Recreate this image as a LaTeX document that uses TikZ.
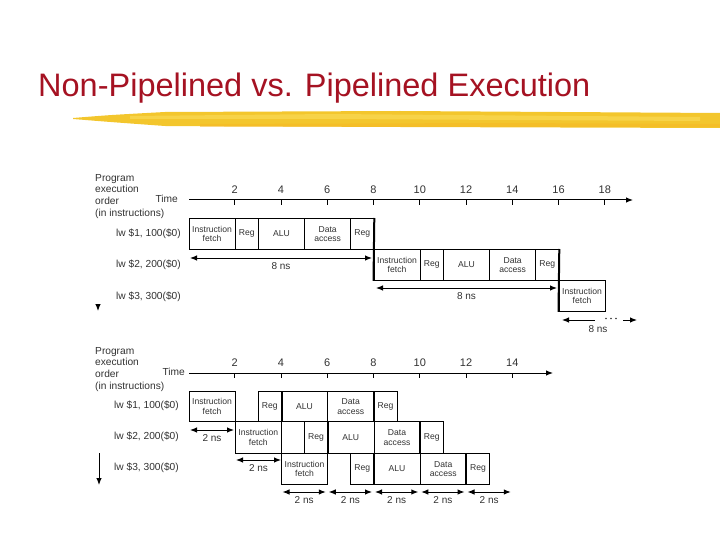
\documentclass[tikz,border=0pt]{standalone}
\usepackage{fontspec}
\setmainfont{Liberation Sans}
\usetikzlibrary{arrows.meta}
\definecolor{titlered}{RGB}{165,18,34}
\definecolor{brushA}{RGB}{243,198,45}
\definecolor{brushB}{RGB}{250,220,90}
\definecolor{txt}{RGB}{50,50,50}
\tikzset{
  stage/.style={draw=black, line width=0.8pt, inner sep=0pt, align=center, text=txt, font=\fontsize{8.6}{9.6}\selectfont},
  dim/.style={{Latex[length=7pt,width=5.5pt]}-{Latex[length=7pt,width=5.5pt]}, line width=1pt},
  onearrow/.style={-{Latex[length=7pt,width=5.5pt]}, line width=1pt},
  axisline/.style={-{Latex[length=7pt,width=5.5pt]}, line width=1pt},
  tickmark/.style={line width=1pt},
  thickedge/.style={line width=2pt},
  lbl/.style={text=txt, font=\fontsize{10.2}{11.7}\selectfont, inner sep=0pt},
  num/.style={text=txt, font=\fontsize{11}{13}\selectfont, inner sep=0pt},
  dimlbl/.style={text=txt, font=\fontsize{10}{11}\selectfont, inner sep=0pt}
}
\newcommand\mystage[6]{%
  \pgfmathsetmacro\xa{188.5+23.125*#2}%
  \pgfmathsetmacro\mw{23.125*(#3-#2)}%
  \pgfmathsetmacro\mh{#5-#4}%
  \node[stage, minimum width=\mw pt, minimum height=\mh pt, anchor=north west] (#1) at (\xa,#4) {#6};}
\begin{document}
\begin{tikzpicture}[x=1pt,y=-1pt]
\useasboundingbox (0,0) rectangle (720,540);
% title
\node[anchor=base west, inner sep=0pt, text=titlered, font=\fontsize{32.5}{36}\selectfont] (title) at (38,97) {Non-Pipelined vs. Pipelined Execution};
% brush stroke
\fill[brushA] (73,118) .. controls (110,115) .. (165,112) -- (400,111) -- (720,113) -- (720,128) -- (400,127) -- (165,126) .. controls (110,122) .. (73,119) -- cycle;
\fill[brushB, opacity=0.6] (130,116) -- (330,114) -- (700,117) -- (700,121) -- (330,119) -- (130,119) -- cycle;
\fill[brushA!80!orange, opacity=0.5] (200,124) -- (500,123) -- (720,124) -- (720,127) -- (500,127) -- (200,127) -- cycle;

% ================= TOP (non-pipelined) =================
\node[lbl, anchor=north west, align=left] (tprog) at (95,174) {Program\\execution\\order\\(in instructions)};
\node[lbl, anchor=east] (ttime) at (178,199) {Time};
\coordinate (tax0) at (189,200);
\coordinate (tax1) at (633,200);
\draw[axisline] (tax0) -- (tax1);
\foreach \t in {2,4,...,18}{
  \pgfmathsetmacro\xx{188.5+23.125*\t}
  \draw[tickmark] (\xx,200) -- (\xx,205);
  \node[num] at (\xx,190) {\t};
}
\node[lbl, anchor=east] (tl1) at (181,234) {lw \$1, 100(\$0)};
\node[lbl, anchor=east] (tl2) at (181,265) {lw \$2, 200(\$0)};
\node[lbl, anchor=east] (tl3) at (181,297) {lw \$3, 300(\$0)};
\mystage{a1}{0}{2}{218}{249}{Instruction\\fetch}
\mystage{a2}{2}{3}{218}{249}{Reg}
\mystage{a3}{3}{5}{218}{249}{ALU}
\mystage{a4}{5}{7}{218}{249}{Data\\access}
\mystage{a5}{7}{8}{218}{249}{Reg}
\mystage{b1}{8}{10}{249}{280}{Instruction\\fetch}
\mystage{b2}{10}{11}{249}{280}{Reg}
\mystage{b3}{11}{13}{249}{280}{ALU}
\mystage{b4}{13}{15}{249}{280}{Data\\access}
\mystage{b5}{15}{16}{249}{280}{Reg}
\mystage{c1}{16}{18}{280}{311}{Instruction\\fetch}
\draw[thickedge] (a5.north east) -- (b1.south west);
\draw[thickedge] (b5.north east) -- (c1.south west);
% 8 ns arrows
\coordinate (d1s) at (190,258); \coordinate (d1e) at (372,258);
\draw[dim] (d1s) -- (d1e) node[dimlbl, midway, below=4pt] {8 ns};
\coordinate (d2s) at (376,288); \coordinate (d2e) at (557,288);
\draw[dim] (d2s) -- (d2e) node[dimlbl, midway, below=4pt] {8 ns};
\coordinate (d3s) at (562,320); \coordinate (d3e) at (595,320);
\draw[{Latex[length=7pt,width=5.5pt]}-, line width=1pt] (d3s) -- (d3e);
\foreach \dx in {606,611,616}{\fill[txt] (\dx,318.5) circle (0.8pt);}
\coordinate (d4s) at (623,320); \coordinate (d4e) at (637,320);
\draw[onearrow] (d4s) -- (d4e);
\node[dimlbl] (d3l) at (598,329) {8 ns};
% order arrowhead
\coordinate (tord0) at (98,304); \coordinate (tord1) at (98,311);
\draw[onearrow] (tord0) -- (tord1);

% ================= BOTTOM (pipelined) =================
\node[lbl, anchor=north west, align=left] (bprog) at (95,347) {Program\\execution\\order\\(in instructions)};
\node[lbl, anchor=east] (btime) at (185,372) {Time};
\coordinate (bax0) at (189,373);
\coordinate (bax1) at (553,373);
\draw[axisline] (bax0) -- (bax1);
\foreach \t in {2,4,...,14}{
  \pgfmathsetmacro\xx{188.5+23.125*\t}
  \draw[tickmark] (\xx,373) -- (\xx,378);
  \node[num] at (\xx,363) {\t};
}
\node[lbl, anchor=east] (bl1) at (179,406) {lw \$1, 100(\$0)};
\node[lbl, anchor=east] (bl2) at (179,437) {lw \$2, 200(\$0)};
\node[lbl, anchor=east] (bl3) at (179,468) {lw \$3, 300(\$0)};
\mystage{p1}{0}{2}{391}{421}{Instruction\\fetch}
\mystage{p2}{3}{4}{391}{421}{Reg}
\mystage{p3}{4}{6}{391}{421}{ALU}
\mystage{p4}{6}{8}{391}{421}{Data\\access}
\mystage{p5}{8}{9}{391}{421}{Reg}
\mystage{q1}{2}{4}{421}{453}{Instruction\\fetch}
\mystage{q2}{5}{6}{421}{453}{Reg}
\mystage{q3}{6}{8}{421}{453}{ALU}
\mystage{q4}{8}{10}{421}{453}{Data\\access}
\mystage{q5}{10}{11}{421}{453}{Reg}
\mystage{r1}{4}{6}{453}{484}{Instruction\\fetch}
\mystage{r2}{7}{8}{453}{484}{Reg}
\mystage{r3}{8}{10}{453}{484}{ALU}
\mystage{r4}{10}{12}{453}{484}{Data\\access}
\mystage{r5}{12}{13}{453}{484}{Reg}
\foreach \n in {p2,q2,r2}{\draw[thickedge] (\n.north east) -- (\n.south east);}
\foreach \n in {p5,q5,r5}{\draw[thickedge] (\n.north west) -- (\n.south west);}
% 2 ns arrows
\coordinate (e1s) at (190,430); \coordinate (e1e) at (234,430);
\draw[dim] (e1s) -- (e1e) node[dimlbl, midway, below=4pt] {2 ns};
\coordinate (e2s) at (236,460); \coordinate (e2e) at (281,460);
\draw[dim] (e2s) -- (e2e) node[dimlbl, midway, below=4pt] {2 ns};
\foreach \k in {4,6,8,10,12}{
  \pgfmathsetmacro\xs{188.5+23.125*\k+1.5}
  \pgfmathsetmacro\xe{188.5+23.125*(\k+2)-1.5}
  \coordinate (f\k s) at (\xs,492);
  \coordinate (f\k e) at (\xe,492);
  \draw[dim] (f\k s) -- (f\k e) node[dimlbl, midway, below=4pt] {2 ns};
}
% order arrow
\coordinate (bord0) at (99,453); \coordinate (bord1) at (99,485);
\draw[onearrow] (bord0) -- (bord1);
\end{tikzpicture}
\end{document}
